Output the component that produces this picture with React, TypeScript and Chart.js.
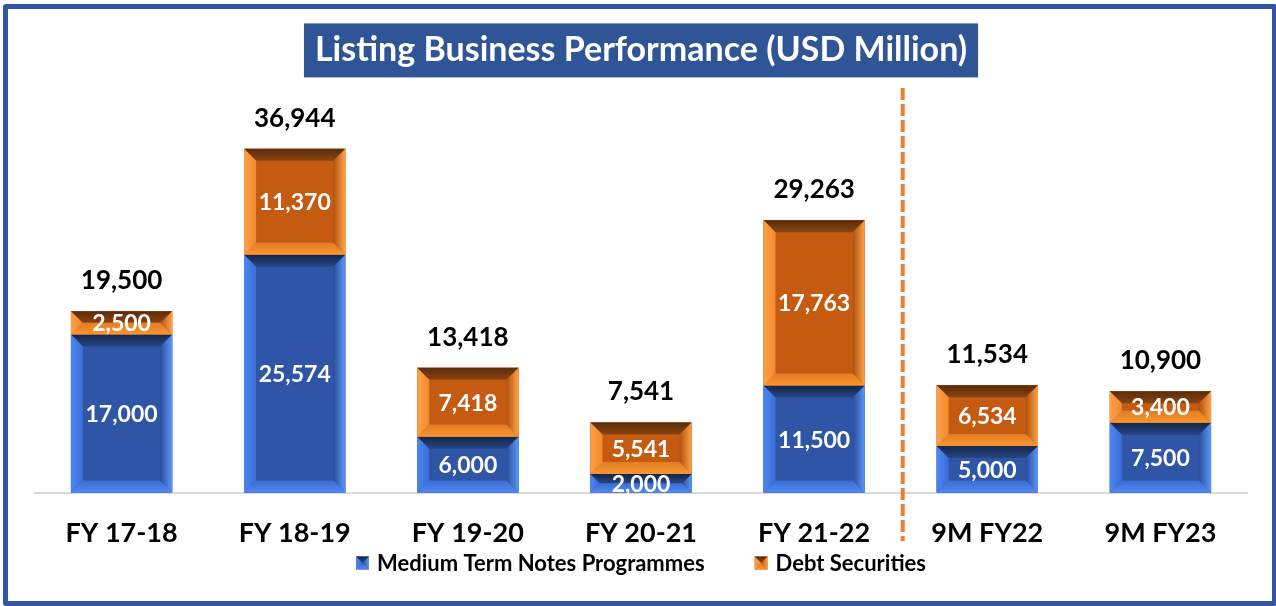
import React, { useEffect, useRef } from "react";
import { Chart, registerables } from "chart.js";

Chart.register(...registerables);

// ---- data ----
const categories = ["FY 17-18", "FY 18-19", "FY 19-20", "FY 20-21", "FY 21-22", "9M FY22", "9M FY23"];
const mtnValues = [17000, 25574, 6000, 2000, 11500, 5000, 7500];
const debtValues = [2500, 11370, 7418, 5541, 17763, 6534, 3400];
const totalValues = [19500, 36944, 13418, 7541, 29263, 11534, 10900];
const seriesNames = ["Medium Term Notes Programmes", "Debt Securities"];
const titleText = "Listing Business Performance (USD Million)";
const dividerAfterIndex = 4;

const FONT = "Lato, 'Open Sans', sans-serif";

type Pal = {
  center: string;
  top: [string, string];
  left: [string, string];
  right: [string, string];
  bottom: [string, string];
};

const palettes: Pal[] = [
  {
    center: "#2F55A6",
    top: ["#13264b", "#264683"],
    left: ["#4d86f2", "#3a6dd6"],
    right: ["#5c97fa", "#2a4e98"],
    bottom: ["#5089f3", "#3b6cd3"],
  },
  {
    center: "#C55A11",
    top: ["#5a2c0a", "#8a4313"],
    left: ["#ffa046", "#f18a30"],
    right: ["#ffa349", "#b0520e"],
    bottom: ["#f9952f", "#e37d25"],
  },
];

function fmt(v: number) {
  return v.toLocaleString("en-US");
}

function drawBevel(ctx: CanvasRenderingContext2D, l: number, t: number, r: number, b: number, pal: Pal, maxS: number) {
  const s = Math.max(0, Math.min(maxS, (b - t) / 2, (r - l) / 2));
  ctx.save();
  ctx.fillStyle = pal.center;
  ctx.fillRect(l, t, r - l, b - t);
  const poly = (pts: number[][], fill: CanvasGradient | string) => {
    ctx.beginPath();
    ctx.moveTo(pts[0][0], pts[0][1]);
    for (let i = 1; i < pts.length; i++) ctx.lineTo(pts[i][0], pts[i][1]);
    ctx.closePath();
    ctx.fillStyle = fill;
    ctx.fill();
  };
  let g = ctx.createLinearGradient(0, t, 0, t + s);
  g.addColorStop(0, pal.top[0]);
  g.addColorStop(1, pal.top[1]);
  poly([[l, t], [r, t], [r - s, t + s], [l + s, t + s]], g);
  g = ctx.createLinearGradient(0, b, 0, b - s);
  g.addColorStop(0, pal.bottom[0]);
  g.addColorStop(1, pal.bottom[1]);
  poly([[l, b], [r, b], [r - s, b - s], [l + s, b - s]], g);
  g = ctx.createLinearGradient(l, 0, l + s, 0);
  g.addColorStop(0, pal.left[0]);
  g.addColorStop(1, pal.left[1]);
  poly([[l, t], [l + s, t + s], [l + s, b - s], [l, b]], g);
  g = ctx.createLinearGradient(r, 0, r - s, 0);
  g.addColorStop(0, pal.right[0]);
  g.addColorStop(1, pal.right[1]);
  poly([[r, t], [r - s, t + s], [r - s, b - s], [r, b]], g);
  ctx.restore();
}

const titleBoxPlugin = {
  id: "titleBox",
  beforeDraw(chart: any) {
    const tb = chart.titleBlock;
    if (!tb) return;
    const ctx = chart.ctx as CanvasRenderingContext2D;
    const opts = chart.options.plugins.title;
    ctx.save();
    ctx.font = `bold ${opts.font.size}px ${FONT}`;
    const w = ctx.measureText(titleText).width;
    const cy = tb.top + opts.padding.top + (opts.font.size * 1.2) / 2;
    const cx = chart.width / 2 + 3;
    ctx.fillStyle = "#2F5597";
    ctx.fillRect(cx - w / 2 - 11, cy - 27, w + 22, 54);
    ctx.restore();
  },
};

const bevelPlugin = {
  id: "bevelBars",
  afterDatasetsDraw(chart: any) {
    const ctx = chart.ctx as CanvasRenderingContext2D;
    chart.data.datasets.forEach((ds: any, di: number) => {
      const meta = chart.getDatasetMeta(di);
      meta.data.forEach((el: any) => {
        const p = el.getProps(["x", "y", "base", "width"], true);
        const l = p.x - p.width / 2;
        const r = p.x + p.width / 2;
        const t = Math.min(p.y, p.base);
        const b = Math.max(p.y, p.base);
        drawBevel(ctx, l, t, r, b, palettes[di], 12);
      });
    });
    // segment labels
    ctx.save();
    ctx.font = `bold 23px ${FONT}`;
    ctx.fillStyle = "#ffffff";
    ctx.textAlign = "center";
    ctx.textBaseline = "middle";
    chart.data.datasets.forEach((ds: any, di: number) => {
      const meta = chart.getDatasetMeta(di);
      meta.data.forEach((el: any, j: number) => {
        const p = el.getProps(["x", "y", "base"], true);
        ctx.fillText(fmt(ds.data[j]), p.x, (p.y + p.base) / 2 + 1);
      });
    });
    // totals
    const last = chart.getDatasetMeta(chart.data.datasets.length - 1);
    ctx.font = `bold 26px ${FONT}`;
    ctx.fillStyle = "#000000";
    ctx.textBaseline = "alphabetic";
    last.data.forEach((el: any, j: number) => {
      const p = el.getProps(["x", "y"], true);
      ctx.fillText(fmt(totalValues[j]), p.x, p.y - 22);
    });
    ctx.restore();
  },
  afterDraw(chart: any) {
    const ctx = chart.ctx as CanvasRenderingContext2D;
    const xs = chart.scales.x;
    const area = chart.chartArea;
    // divider
    const dx = (xs.getPixelForValue(dividerAfterIndex) + xs.getPixelForValue(dividerAfterIndex + 1)) / 2 + 2;
    ctx.save();
    ctx.strokeStyle = "#ED7D31";
    ctx.lineWidth = 4;
    ctx.setLineDash([12, 4]);
    ctx.beginPath();
    ctx.moveTo(dx, 88);
    ctx.lineTo(dx, 541);
    ctx.stroke();
    ctx.restore();

    // legend
    ctx.save();
    ctx.font = `bold 22px ${FONT}`;
    const m = 13;
    const mg = 8;
    const gap = 50;
    const widths = seriesNames.map((s) => ctx.measureText(s).width);
    const total = widths.reduce((a, w) => a + m + mg + w, 0) + gap * (seriesNames.length - 1);
    let x = (area.left + area.right) / 2 - total / 2;
    const cy = 563;
    ctx.textBaseline = "middle";
    ctx.textAlign = "left";
    seriesNames.forEach((name, i) => {
      drawBevel(ctx, x, cy - m / 2, x + m, cy + m / 2, palettes[i], 7);
      ctx.fillStyle = "#000000";
      ctx.fillText(name, x + m + mg, cy + 1);
      x += m + mg + widths[i] + gap;
    });
    ctx.restore();
  },
};

export default function App() {
  const ref = useRef<HTMLCanvasElement | null>(null);

  useEffect(() => {
    document.body.style.margin = "0";
    const canvas = ref.current;
    if (!canvas) return;
    const chart = new Chart(canvas, {
      type: "bar",
      data: {
        labels: categories,
        datasets: [
          { label: seriesNames[0], data: mtnValues, backgroundColor: palettes[0].center, borderWidth: 0 },
          { label: seriesNames[1], data: debtValues, backgroundColor: palettes[1].center, borderWidth: 0 },
        ],
      },
      options: {
        responsive: false,
        animation: false,
        devicePixelRatio: 1,
        layout: { padding: { left: 35, right: 29, top: 0, bottom: 33 } },
        datasets: {
          bar: { barPercentage: 1, categoryPercentage: 0.585 },
        },
        scales: {
          x: {
            stacked: true,
            grid: { display: false, drawTicks: false },
            border: { display: true, color: "#D9D9D9", width: 2 },
            ticks: {
              color: "#000000",
              font: { family: FONT, size: 27, weight: "bold" },
              padding: 24,
              maxRotation: 0,
              autoSkip: false,
            },
          },
          y: {
            stacked: true,
            display: false,
            min: 0,
            max: 43400,
          },
        },
        plugins: {
          legend: { display: false },
          tooltip: { enabled: false },
          title: {
            display: true,
            text: titleText,
            color: "#ffffff",
            font: { family: FONT, size: 34, weight: "bold" },
            padding: { top: 30, bottom: 18 },
          },
        },
      },
      plugins: [titleBoxPlugin, bevelPlugin],
    });
    return () => chart.destroy();
  }, []);

  return (
    <div style={{ position: "fixed", left: 0, top: 0, width: 1276, height: 606, background: "#ffffff", overflow: "hidden" }}>
      <canvas ref={ref} width={1276} height={606} style={{ display: "block" }} />
      <div
        style={{
          position: "absolute",
          left: 3,
          top: 4,
          width: 1274,
          height: 602,
          boxSizing: "border-box",
          border: "5px solid #2F55A4",
          borderRadius: 3,
          pointerEvents: "none",
        }}
      />
    </div>
  );
}
